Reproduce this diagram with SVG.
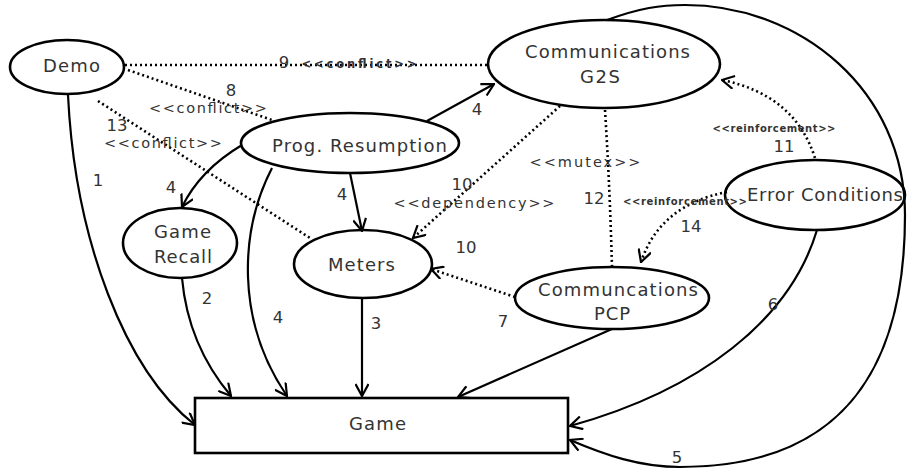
<svg xmlns="http://www.w3.org/2000/svg" width="907" height="469" viewBox="0 0 907 469">
<style>
.node{fill:#fff;stroke:#000;stroke-width:2.6}
.nt{font-family:"DejaVu Sans",sans-serif;font-size:18px;fill:#333;text-anchor:middle}
.lb{font-family:"DejaVu Sans",sans-serif;font-size:16.5px;fill:#333;text-anchor:middle}
.st{font-family:"DejaVu Sans",sans-serif;font-size:14.5px;fill:#333;text-anchor:middle}
.sm{font-family:"DejaVu Sans",sans-serif;font-size:11.5px;font-weight:bold;fill:#333;text-anchor:middle}
.xs{font-family:"DejaVu Sans",sans-serif;font-size:10px;font-weight:bold;fill:#333;text-anchor:middle}
.c{fill:none;stroke:#000;stroke-width:2.2}
.d{fill:none;stroke:#000;stroke-width:2.6;stroke-dasharray:2 3}
</style>
<defs>
<marker id="arr" viewBox="0 0 14 14" refX="13" refY="7" markerWidth="14" markerHeight="14" orient="auto" markerUnits="userSpaceOnUse">
<path d="M1,0.5 L13,7 L1,13.5" fill="none" stroke="#000" stroke-width="2.2"/>
</marker>
</defs>
<rect width="907" height="469" fill="#fff"/>
<g id="demo"><ellipse class="node" cx="67" cy="67" rx="57" ry="27"/><text class="nt" x="71.5" y="72" textLength="57">Demo</text></g>
<g id="g2s"><ellipse class="node" cx="604" cy="64" rx="116" ry="44"/><text class="nt" x="607.5" y="58" textLength="165">Communications</text><text class="nt" x="600" y="83" textLength="40">G2S</text></g>
<g id="prog"><ellipse class="node" cx="350" cy="143" rx="109" ry="30"/><text class="nt" x="359.5" y="152" textLength="175">Prog. Resumption</text></g>
<g id="recall"><ellipse class="node" cx="180" cy="243" rx="57" ry="35"/><text class="nt" x="182.5" y="238" textLength="57">Game</text><text class="nt" x="183" y="263" textLength="58">Recall</text></g>
<g id="meters"><ellipse class="node" cx="363" cy="264" rx="69" ry="34"/><text class="nt" x="361.5" y="271" textLength="67">Meters</text></g>
<g id="pcp"><ellipse class="node" cx="612" cy="298" rx="97" ry="31"/><text class="nt" x="618" y="296" textLength="160">Communcations</text><text class="nt" x="612" y="320" textLength="36">PCP</text></g>
<g id="error"><ellipse class="node" cx="815" cy="195" rx="90" ry="35"/><text class="nt" x="825" y="201" textLength="156">Error Conditions</text></g>
<g id="game"><rect class="node" x="195" y="398" width="373" height="55"/><text class="nt" x="377.5" y="430" textLength="57">Game</text></g>
<g id="connectors">
<path class="c" d="M68,95 C75,240 125,370 195,425" marker-end="url(#arr)"/>
<path class="c" d="M182,278 Q188,345 231,396" marker-end="url(#arr)"/>
<path class="c" d="M362,298 L362,396" marker-end="url(#arr)"/>
<path class="c" d="M272,168 C240,230 235,320 287,396" marker-end="url(#arr)"/>
<path class="c" d="M242,145 Q200,170 182,207" marker-end="url(#arr)"/>
<path class="c" d="M350,173 L362,231" marker-end="url(#arr)"/>
<path class="c" d="M427,121 L494,84" marker-end="url(#arr)"/>
<path class="c" d="M612,329 L458,397" marker-end="url(#arr)"/>
<path class="c" d="M817,230 C790,320 700,390 570,426" marker-end="url(#arr)"/>
<path class="c" d="M607,20 C640,8 660,5 685,5 C800,5 905,90 905,215 C905,360 850,467 680,467 C640,467 605,455 570,440" marker-end="url(#arr)"/>
<path class="d" d="M125,65 L488,65"/>
<path class="d" d="M128,70 L272,120"/>
<path class="d" d="M98,101 L310,238"/>
<path class="d" d="M560,106 L413,238" marker-end="url(#arr)"/>
<path class="d" d="M515,297 L431,269" marker-end="url(#arr)"/>
<path class="d" d="M605,110 Q610,190 612,268"/>
<path class="d" d="M727,192 Q660,205 641,262" marker-end="url(#arr)"/>
<path class="d" d="M815,158 Q795,95 722,80" marker-end="url(#arr)"/>
<text class="lb" x="98" y="186">1</text>
<text class="lb" x="207" y="304">2</text>
<text class="lb" x="376" y="329">3</text>
<text class="lb" x="278" y="323">4</text>
<text class="lb" x="171" y="193">4</text>
<text class="lb" x="342" y="200">4</text>
<text class="lb" x="477" y="115">4</text>
<text class="lb" x="677" y="463">5</text>
<text class="lb" x="773" y="310">6</text>
<text class="lb" x="503" y="327">7</text>
<text class="lb" x="231" y="96">8</text>
<text class="st" x="208" y="113" textLength="118">&lt;&lt;conflict&gt;&gt;</text>
<text class="lb" x="284" y="68">9</text>
<text class="sm" x="359" y="68" textLength="115">&lt;&lt;conflict&gt;&gt;</text>
<text class="lb" x="117" y="131">13</text>
<text class="st" x="163" y="148" textLength="118">&lt;&lt;conflict&gt;&gt;</text>
<text class="lb" x="462" y="190">10</text>
<text class="st" x="474" y="208" textLength="161">&lt;&lt;dependency&gt;&gt;</text>
<text class="lb" x="466" y="253">10</text>
<text class="st" x="585" y="167" textLength="111">&lt;&lt;mutex&gt;&gt;</text>
<text class="lb" x="594" y="204">12</text>
<text class="xs" x="774" y="132" textLength="123">&lt;&lt;reinforcement&gt;&gt;</text>
<text class="lb" x="784" y="152">11</text>
<text class="xs" x="685" y="205" textLength="124">&lt;&lt;reinforcement&gt;&gt;</text>
<text class="lb" x="691" y="232">14</text>
</g>
</svg>
